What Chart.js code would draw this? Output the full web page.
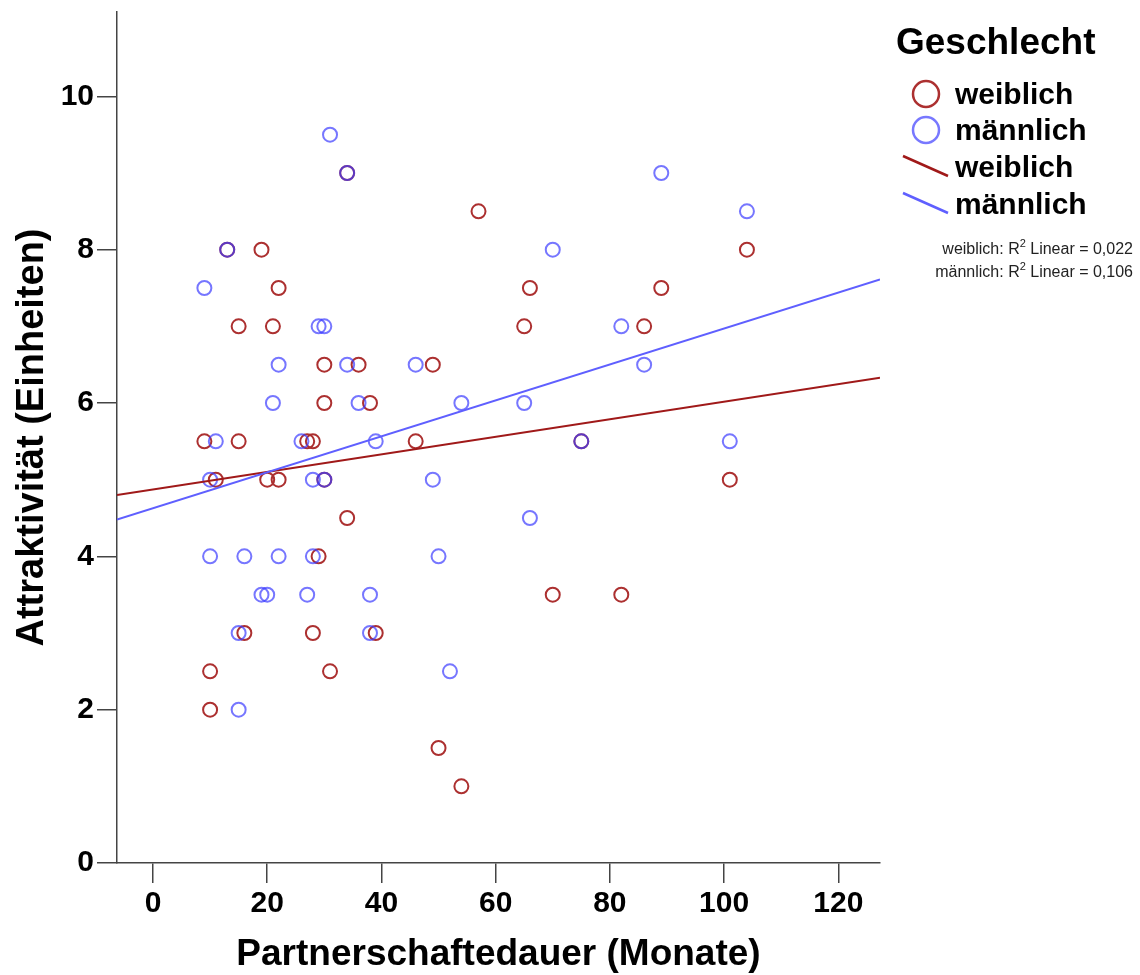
<!DOCTYPE html>
<html><head><meta charset="utf-8">
<script src="https://cdn.jsdelivr.net/npm/chart.js@4.4.1/dist/chart.umd.min.js"></script>
<style>html,body{margin:0;padding:0;background:#fff;}#wrap{width:1140px;height:975px;}</style>
</head><body><div id="wrap"><canvas id="c" width="1140" height="975"></canvas></div>
<script>
// ---- data ----
const weiblichDauer = [57,19,13,104,22,66,89,15,21,65,86,30,36,49,30,38,9,15,27,28,46,75,11,20,22,30,101,34,29,70,82,16,28,39,10,31,10,50,54,34];
const weiblichAttr  = [8.5,8,8,8,7.5,7.5,7.5,7,7,7,7,6.5,6.5,6.5,6,6,5.5,5.5,5.5,5.5,5.5,5.5,5,5,5,5,5,4.5,4,3.5,3.5,3,3,3,2.5,2.5,2,1.5,1,9];
const maennlichDauer = [31,34,89,104,13,70,9,29,30,82,22,34,46,86,21,36,54,65,11,26,39,75,101,10,28,30,49,66,10,16,22,28,50,19,20,27,38,15,38,52,15];
const maennlichAttr  = [9.5,9,9,8.5,8,8,7.5,7,7,7,6.5,6.5,6.5,6.5,6,6,6,6,5.5,5.5,5.5,5.5,5.5,5,5,5,5,4.5,4,4,4,4,4,3.5,3.5,3.5,3.5,3,3,2.5,2];
// fit lines (ends at the axis bounds)
const fitDauer = [-6.3, 127.3];
const fitWeiblich = [4.80, 6.33];
const fitMaennlich = [4.48, 7.61];
const xTicks = [0,20,40,60,80,100,120];
const yTicks = [0,2,4,6,8,10];
const groupLabels = ['weiblich','männlich'];
const r2Values = ['0,022','0,106'];
const legendTitle = 'Geschlecht';

const RED = 'rgb(172,48,48)';
const BLUE_PT = 'rgba(60,60,255,0.7)';
const RED_LINE = 'rgb(160,25,25)';
const BLUE_LINE = 'rgb(95,95,255)';
const FONT = '"Liberation Sans", Arial, sans-serif';

const toPts = (xs, ys) => xs.map((x,i)=>({x, y: ys[i]}));

const legendPlugin = {
  id: 'spssLegend',
  afterDraw(chart) {
    const ctx = chart.ctx;
    ctx.save();
    ctx.fillStyle = '#000';
    ctx.textBaseline = 'middle';
    ctx.textAlign = 'left';
    ctx.font = 'bold 37px ' + FONT;
    ctx.fillText(legendTitle, 896, 44);
    ctx.font = 'bold 30px ' + FONT;
    const items = [
      {kind:'circle', color: RED, y: 95, label: groupLabels[0]},
      {kind:'circle', color: 'rgb(120,120,255)', y: 131, label: groupLabels[1]},
      {kind:'line', color: RED_LINE, y: 168, label: groupLabels[0]},
      {kind:'line', color: BLUE_LINE, y: 205, label: groupLabels[1]},
    ];
    items.forEach(it => {
      ctx.strokeStyle = it.color;
      ctx.lineWidth = 2.5;
      ctx.beginPath();
      if (it.kind === 'circle') {
        ctx.arc(926, it.y - 1, 13, 0, Math.PI*2);
      } else {
        ctx.moveTo(903, it.y - 12);
        ctx.lineTo(948, it.y + 8);
      }
      ctx.stroke();
      ctx.fillStyle = '#000';
      ctx.fillText(it.label, 955, it.y + 1);
    });
    // R² annotations
    ctx.fillStyle = '#222';
    const base = 16, sup = 11;
    [250, 273].forEach((y, i) => {
      const p1 = groupLabels[i] + ': R';
      const p3 = ' Linear = ' + r2Values[i];
      ctx.font = base + 'px ' + FONT;
      const w1 = ctx.measureText(p1).width, w3 = ctx.measureText(p3).width;
      ctx.font = sup + 'px ' + FONT;
      const w2 = ctx.measureText('2').width;
      let x = 1133 - (w1 + w2 + w3);
      ctx.font = base + 'px ' + FONT;
      ctx.fillText(p1, x, y);
      ctx.font = sup + 'px ' + FONT;
      ctx.fillText('2', x + w1, y - 6);
      ctx.font = base + 'px ' + FONT;
      ctx.fillText(p3, x + w1 + w2, y);
    });
    ctx.restore();
  }
};

new Chart(document.getElementById('c'), {
  type: 'scatter',
  data: {
    datasets: [
      {type:'line', label:'männlich fit', data: toPts(fitDauer, fitMaennlich), borderColor: BLUE_LINE, borderWidth: 2, pointRadius: 0, fill:false, tension:0},
      {type:'line', label:'weiblich fit', data: toPts(fitDauer, fitWeiblich), borderColor: RED_LINE, borderWidth: 2, pointRadius: 0, fill:false, tension:0},
      {label:'männlich', data: toPts(maennlichDauer, maennlichAttr), pointStyle:'circle', pointRadius: 7, pointBorderWidth: 2, borderColor: BLUE_PT, backgroundColor: 'rgba(0,0,0,0)', pointBackgroundColor: 'rgba(0,0,0,0)', pointBorderColor: BLUE_PT},
      {label:'weiblich', data: toPts(weiblichDauer, weiblichAttr), pointStyle:'circle', pointRadius: 7, pointBorderWidth: 2, borderColor: RED, backgroundColor: 'rgba(0,0,0,0)', pointBackgroundColor: 'rgba(0,0,0,0)', pointBorderColor: RED},
    ]
  },
  options: {
    responsive: false,
    animation: false,
    devicePixelRatio: 1,
    layout: {autoPadding: false, padding: {left: 0, right: 260, top: 12, bottom: 0}},
    plugins: {legend: {display:false}, tooltip: {enabled:false}},
    scales: {
      x: {
        type: 'linear', position: 'bottom', min: fitDauer[0], max: fitDauer[1],
        afterBuildTicks: s => { s.ticks = xTicks.map(v => ({value: v})); },
        afterFit: s => { s.height = 975 - 863; s.paddingLeft = 0; s.paddingRight = 0; },
        grid: {drawOnChartArea: false, drawTicks: true, tickLength: 20, color: '#444', lineWidth: 1.5},
        border: {display: true, color: '#444', width: 1.5},
        ticks: {color:'#000', font: {family: FONT, size: 30, weight: 'bold', lineHeight: 1.1}, padding: 4, maxRotation: 0, autoSkip: false},
        title: {display: true, text: 'Partnerschaftedauer (Monate)', color: '#000', font: {family: FONT, size: 37, weight: 'bold', lineHeight: 1.1}, padding: {top: 0, bottom: 0}}
      },
      y: {
        type: 'linear', position: 'left', min: 0, max: 11.1,
        afterBuildTicks: s => { s.ticks = yTicks.map(v => ({value: v})); },
        afterFit: s => { s.width = 117; s.paddingTop = 0; s.paddingBottom = 0; },
        grid: {drawOnChartArea: false, drawTicks: true, tickLength: 20, color: '#444', lineWidth: 1.5},
        border: {display: true, color: '#444', width: 1.5},
        ticks: {color:'#000', font: {family: FONT, size: 30, weight: 'bold'}, padding: 3, autoSkip: false},
        title: {display: true, text: 'Attraktivität (Einheiten)', color: '#000', font: {family: FONT, size: 38, weight: 'bold', lineHeight: 1.2}, padding: {top: 10, bottom: 0}}
      }
    }
  },
  plugins: [legendPlugin]
});
</script></body></html>
